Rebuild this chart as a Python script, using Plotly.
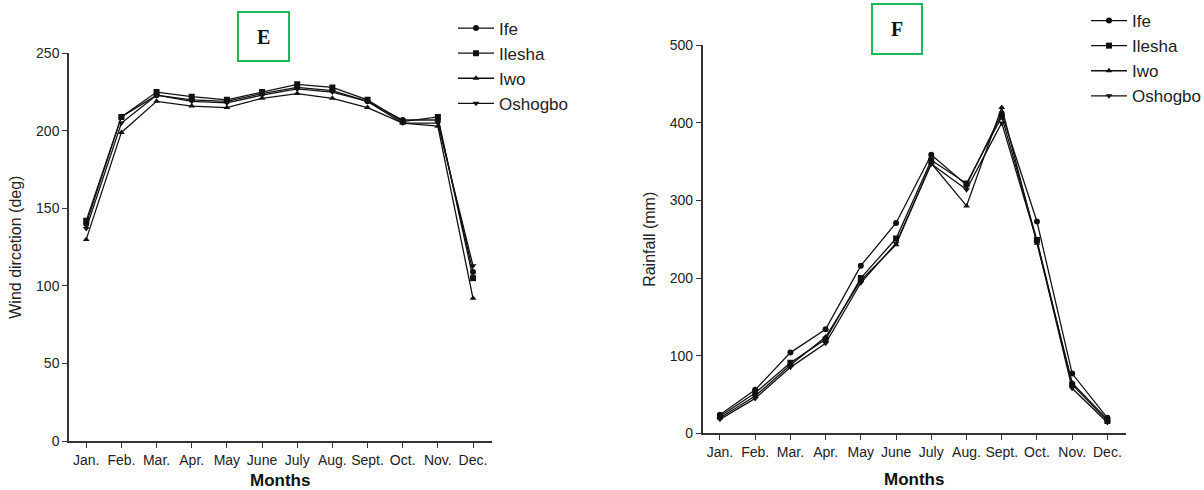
import plotly.graph_objects as go

months = ["Jan.", "Feb.", "Mar.", "Apr.", "May", "June", "July", "Aug.", "Sept.", "Oct.", "Nov.", "Dec."]
stations = ["Ife", "Ilesha", "Iwo", "Oshogbo"]
symbols = ["circle", "square", "triangle-up", "triangle-down"]

wind_ife = [140, 209, 223, 220, 219, 224, 228, 226, 219, 207, 207, 109]
wind_ilesha = [142, 209, 225, 222, 220, 225, 230, 228, 220, 206, 209, 105]
wind_iwo = [130, 199, 219, 216, 215, 221, 224, 221, 215, 205, 203, 92]
wind_oshogbo = [137, 205, 223, 219, 218, 223, 227, 225, 219, 205, 205, 113]

rain_ife = [24, 56, 104, 134, 216, 271, 359, 320, 412, 273, 77, 20]
rain_ilesha = [22, 52, 91, 121, 200, 251, 352, 322, 408, 249, 63, 16]
rain_iwo = [20, 48, 88, 124, 197, 243, 348, 293, 420, 245, 65, 18]
rain_oshogbo = [18, 45, 85, 116, 194, 245, 347, 314, 400, 247, 58, 14]

wind = [wind_ife, wind_ilesha, wind_iwo, wind_oshogbo]
rain = [rain_ife, rain_ilesha, rain_iwo, rain_oshogbo]

W, H = 1204, 490
FONT = "Liberation Sans, Arial, sans-serif"
fig = go.Figure()

for i, name in enumerate(stations):
    fig.add_trace(go.Scatter(
        x=months, y=wind[i], name=name, mode="lines+markers",
        line=dict(color="#111", width=1.3),
        marker=dict(symbol=symbols[i], size=6, color="#111"),
        xaxis="x", yaxis="y", legend="legend"))
for i, name in enumerate(stations):
    fig.add_trace(go.Scatter(
        x=months, y=rain[i], name=name, mode="lines+markers",
        line=dict(color="#111", width=1.3),
        marker=dict(symbol=symbols[i], size=6, color="#111"),
        xaxis="x2", yaxis="y2", legend="legend2"))

axis_common = dict(showline=True, linecolor="#333", linewidth=1.5, ticks="outside",
                   ticklen=5, tickwidth=1.3, tickcolor="#333", showgrid=False,
                   zeroline=False, automargin=False,
                   tickfont=dict(family=FONT, size=14, color="#222"))

fig.update_layout(
    width=W, height=H, margin=dict(l=0, r=0, t=0, b=0, autoexpand=False),
    paper_bgcolor="white", plot_bgcolor="white",
    font=dict(family=FONT, color="#222"),
    xaxis=dict(domain=[69 / W, 492 / W], anchor="y", type="category",
               range=[-0.49, 11.54], **axis_common),
    yaxis=dict(domain=[(H - 441) / H, (H - 53.3) / H], anchor="x", range=[0, 250],
               tickvals=[0, 50, 100, 150, 200, 250],
               title=dict(text="Wind dircetion (deg)", font=dict(family=FONT, size=16), standoff=10),
               **axis_common),
    xaxis2=dict(domain=[702.7 / W, 1125.7 / W], anchor="y2", type="category",
                range=[-0.49, 11.52], **axis_common),
    yaxis2=dict(domain=[(H - 433.3) / H, (H - 45.3) / H], anchor="x2", range=[0, 500],
                tickvals=[0, 100, 200, 300, 400, 500],
                title=dict(text="Rainfall (mm)", font=dict(family=FONT, size=16), standoff=10),
                **axis_common),
    legend=dict(x=453 / W, y=1 - 10.5 / H, xanchor="left", yanchor="top",
                font=dict(family=FONT, size=17, color="#222"), bgcolor="rgba(0,0,0,0)",
                itemwidth=36, tracegroupgap=0),
    legend2=dict(x=1086 / W, y=1 - 3 / H, xanchor="left", yanchor="top",
                 font=dict(family=FONT, size=17, color="#222"), bgcolor="rgba(0,0,0,0)",
                 itemwidth=36, tracegroupgap=0),
    showlegend=True,
)

# Months axis titles (positioned below the tick labels)
fig.add_annotation(text="<b>Months</b>", x=280 / W, y=1 - 480 / H, xref="paper", yref="paper",
                   xanchor="center", yanchor="middle", showarrow=False,
                   font=dict(family=FONT, size=17, color="#111"))
fig.add_annotation(text="<b>Months</b>", x=914 / W, y=1 - 479 / H, xref="paper", yref="paper",
                   xanchor="center", yanchor="middle", showarrow=False,
                   font=dict(family=FONT, size=17, color="#111"))

# Panel labels in green boxes
for lab, (x0, y0, x1, y1) in [("E", (238, 12, 289, 61)), ("F", (872, 4, 922, 54))]:
    fig.add_shape(type="rect", xref="paper", yref="paper",
                  x0=x0 / W, x1=x1 / W, y0=1 - y1 / H, y1=1 - y0 / H,
                  line=dict(color="#1db954", width=2), fillcolor="white")
    fig.add_annotation(text="<b>%s</b>" % lab, x=(x0 + x1) / 2 / W, y=1 - (y0 + y1) / 2 / H,
                       xref="paper", yref="paper", xanchor="center", yanchor="middle",
                       showarrow=False,
                       font=dict(family="Liberation Serif, Times New Roman, serif", size=20, color="#111"))

fig.write_html("out.html")
